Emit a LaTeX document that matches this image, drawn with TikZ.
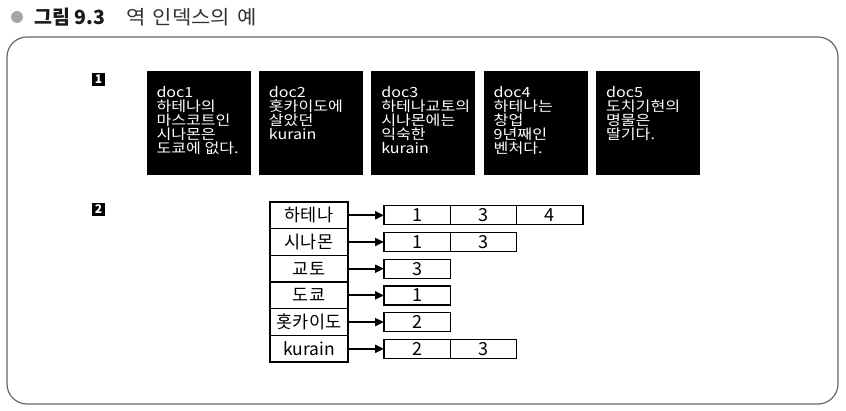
\documentclass[tikz,border=0pt]{standalone}
\usepackage{fontspec}
\setmainfont{Noto Sans CJK KR}
\newfontfamily\docfont[FakeStretch=1.15]{Noto Sans CJK KR}
\newfontfamily\captionfont[FakeStretch=1.08,WordSpace=1.5]{Noto Sans CJK KR}
\usetikzlibrary{positioning,arrows.meta}

\begin{document}
\begin{tikzpicture}[x=1pt,y=-1pt,
    % Styles
    frame/.style={% The outer rounded box
        rectangle,
        rounded corners=20pt,
        draw=black!60,
        line width=1.2pt,
        },
    marker/.style={% Small numbered squares
        rectangle,
        fill=black,
        text=white,
        font=\fontsize{12}{12}\selectfont\bfseries,
        minimum size=13pt,
        inner sep=0pt,
        },
    docbox/.style={% Black document boxes
        rectangle,
        fill=black,
        text=white,
        inner xsep=10pt,
        inner ysep=11pt,
        font=\docfont\fontsize{14}{14}\selectfont,
        },
    term/.style={% Index terms
        rectangle,
        draw,
        line width=1.3pt,
        minimum width=78pt,
        minimum height=26.7pt,
        inner sep=0pt,
        outer sep=0pt,
        font=\fontsize{17.5}{17.5}\selectfont,
        },
    post/.style={% Posting list cells
        rectangle,
        draw,
        line width=1.3pt,
        minimum width=66.3pt,
        minimum height=19pt,
        inner sep=0pt,
        outer sep=0pt,
        font=\fontsize{18}{18}\selectfont,
        },
    ArrowP/.style={% Arrows from terms to postings
        line width=2pt,
        -{Triangle[length=9pt,width=8pt]},
        },
    ]

    \useasboundingbox (0,0) rectangle (846,411);

    % Title
    \fill[black!35] (17,17) circle (6pt);
    \node[anchor=west, font=\fontsize{19.5}{19.5}\selectfont\bfseries, text=black!90, inner sep=0pt] (title) at (34,17) {그림 9.3};
    \node[anchor=west, font=\captionfont\fontsize{19.5}{19.5}\selectfont, text=black!80, inner sep=0pt] (caption) at (126,17) {역 인덱스의 예};

    % Frame
    \node[frame, minimum width=831pt, minimum height=367pt] (box) at (422.5,220.5) {};

    % Markers
    \node[marker] (m1) at (98.5,79.5) {1};
    \node[marker] (m2) at (98.5,209.5) {2};

    % Documents
    \node[docbox] (doc1) at (198.5,123.5) {\parbox[t][82pt][t]{84pt}{\rule{0pt}{15pt}doc1\\하테나의\\마스코트인\\시나몬은\\도쿄에 없다.}};
    \node[docbox, right=8pt of doc1] (doc2) {\parbox[t][82pt][t]{84pt}{\rule{0pt}{15pt}doc2\\홋카이도에\\살았던\\kurain}};
    \node[docbox, right=8pt of doc2] (doc3) {\parbox[t][82pt][t]{84pt}{\rule{0pt}{15pt}doc3\\하테나교토의\\시나몬에는\\익숙한\\kurain}};
    \node[docbox, right=8pt of doc3] (doc4) {\parbox[t][82pt][t]{84pt}{\rule{0pt}{15pt}doc4\\하테나는\\창업\\9년째인\\벤처다.}};
    \node[docbox, right=8pt of doc4] (doc5) {\parbox[t][82pt][t]{84pt}{\rule{0pt}{15pt}doc5\\도치기현의\\명물은\\딸기다.}};

    % Terms
    \node[term] (t1) at (309,215.3) {하테나};
    \node[term, below=0pt of t1] (t2) {시나몬};
    \node[term, below=0pt of t2] (t3) {교토};
    \node[term, below=0pt of t3] (t4) {도쿄};
    \node[term, below=0pt of t4] (t5) {홋카이도};
    \node[term, below=0pt of t5] (t6) {kurain};

    % Postings
    \node[post, right=36pt of t1] (p11) {1};
    \node[post, right=0pt of p11] (p12) {3};
    \node[post, right=0pt of p12] (p13) {4};
    \node[post, right=36pt of t2] (p21) {1};
    \node[post, right=0pt of p21] (p22) {3};
    \node[post, right=36pt of t3] (p31) {3};
    \node[post, right=36pt of t4] (p41) {1};
    \node[post, right=36pt of t5] (p51) {2};
    \node[post, right=36pt of t6] (p61) {2};
    \node[post, right=0pt of p61] (p62) {3};

    % Arrows
    \draw[ArrowP] (t1) -- (p11);
    \draw[ArrowP] (t2) -- (p21);
    \draw[ArrowP] (t3) -- (p31);
    \draw[ArrowP] (t4) -- (p41);
    \draw[ArrowP] (t5) -- (p51);
    \draw[ArrowP] (t6) -- (p61);

\end{tikzpicture}
\end{document}
